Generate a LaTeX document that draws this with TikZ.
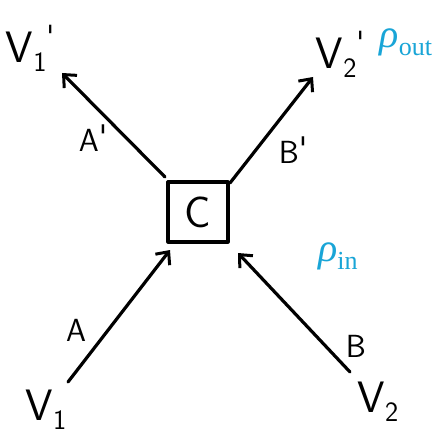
\documentclass[tikz,border=0pt]{standalone}
\usepackage{fontspec}
\newfontfamily\rhofont{Liberation Serif}
\usetikzlibrary{arrows.meta}
\newcommand{\lowsub}[1]{\raisebox{-9pt}{\fontsize{28}{30}\selectfont #1}}
\newcommand{\rhosub}[1]{\raisebox{-8pt}{\fontsize{26}{28}\selectfont\upshape #1}}
\newcommand{\hipr}{\raisebox{16pt}{\fontsize{30}{30}\selectfont\textquotesingle}}
\begin{document}
\begin{tikzpicture}[x=1pt,y=-1pt,
  ink/.style={line width=3.2pt,line cap=round,line join=round,black},
  arr/.style={ink,-{Straight Barb[length=10pt,width=18pt,line width=3pt]}},
  lbl/.style={font=\fontsize{44}{48}\selectfont\sffamily,inner sep=0pt},
  sml/.style={font=\fontsize{32}{36}\selectfont\sffamily,inner sep=0pt},
  rho/.style={font=\fontsize{40}{44}\selectfont\rhofont\itshape,inner sep=0pt,text=rhoc},
  boxc/.style={draw,ink,minimum width=60pt,minimum height=60pt,inner sep=0pt}]
\definecolor{rhoc}{RGB}{25,165,215}
\useasboundingbox (0,0) rectangle (433,441);
\fill[white] (0,0) rectangle (433,441);
% nodes
\node[boxc,lbl] (C) at (198,212) {C};
\node[lbl] (V1p) at (30,48) {V\lowsub{1}\hipr};
\node[lbl] (V2p) at (340,54) {V\lowsub{2}\hipr};
\node[lbl] (V1) at (46,410) {V\lowsub{1}};
\node[lbl] (V2) at (378,402) {V\lowsub{2}};
\node[rho] (rout) at (406,42) {ρ\rhosub{out}};
\node[rho] (rin) at (338,256) {ρ\rhosub{in}};
% endpoints
\coordinate (a1) at (68,382);
\coordinate (a2) at (170,250);
\coordinate (b1) at (350,372);
\coordinate (b2) at (238,253);
\coordinate (ap1) at (165,177);
\coordinate (ap2) at (62,73);
\coordinate (bp1) at (230,183);
\coordinate (bp2) at (313,77);
% arrows
\draw[arr] (a1) -- (a2);
\draw[arr] (b1) -- (b2);
\draw[arr] (ap1) -- (ap2);
\draw[arr] (bp1) -- (bp2);
% edge labels
\node[sml] (lA) at (76,330) {A};
\node[sml] (lB) at (356,346) {B};
\node[sml] (lAp) at (93,138) {A\raisebox{4pt}{\textquotesingle}};
\node[sml] (lBp) at (293,150) {B\raisebox{4pt}{\textquotesingle}};
\end{tikzpicture}
\end{document}
